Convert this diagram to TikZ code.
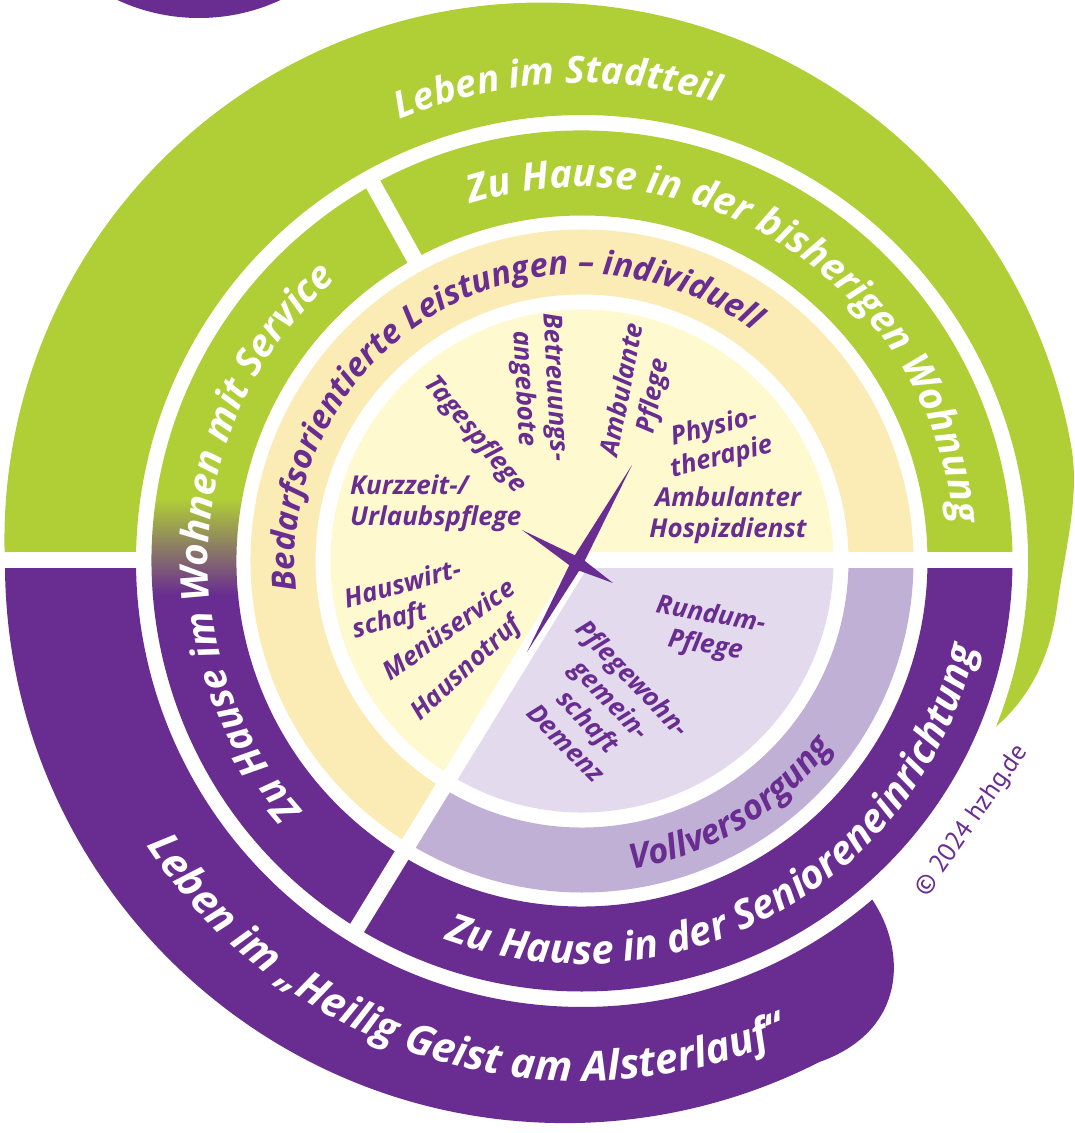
\documentclass[tikz,border=0pt]{standalone}
\usepackage{fontspec}
\newfontfamily\lab{Open Sans}
\newfontfamily\labthin{PT Sans}
\usetikzlibrary{decorations.text}
\definecolor{hgreen}{RGB}{176,206,54}
\definecolor{hpurple}{RGB}{105,44,145}
\definecolor{hbeige}{RGB}{251,236,181}
\definecolor{hyellow}{RGB}{255,249,208}
\definecolor{hlilac}{RGB}{227,219,237}
\definecolor{hlilacring}{RGB}{193,176,213}
\newcommand\hzTop{\lab\bfseries\itshape\fontsize{37.5}{40}\selectfont}
\newcommand\hzBottom{\lab\bfseries\itshape\fontsize{41.5}{44}\selectfont}
\newcommand\hzMid{\lab\bfseries\itshape\fontsize{38.5}{40}\selectfont}
\newcommand\hzMidB{\lab\bfseries\itshape\fontsize{40}{42}\selectfont}
\newcommand\hzRing{\lab\bfseries\itshape\fontsize{33}{36}\selectfont}
\newcommand\hzVoll{\lab\bfseries\itshape\fontsize{34.5}{36}\selectfont}
\begin{document}
\begin{tikzpicture}[x=1pt,y=1pt,
  inlabel/.style={text=hpurple, font={\lab\bfseries\itshape\fontsize{26}{31}\selectfont}, align=center, inner sep=0pt},
  copylabel/.style={text=hpurple, font={\labthin\fontsize{26}{28}\selectfont}, inner sep=0pt},
  gapline/.style={draw=white, line width=16pt},
  ]
\useasboundingbox (-582,-572) rectangle (493,561);
\clip (-582,-572) rectangle (493,561);
% top purple piece
\fill[hpurple] (-383,736.5) circle[radius=193.5];
% outer green band (spiral tail)
\fill[hgreen] (178.84:446) -- (-577.4,9) arc[start angle=181.28,end angle=10,radius=537.5]
  .. controls (498,65) and (483,10) .. (476,-39)
  .. controls (472,-70) and (462,-124) .. (-21.8:446)
  arc[start angle=-21.8,end angle=178.84,radius=446] -- cycle;
% outer purple band with rounded end
\fill[hpurple] (180.9:446) -- (-577,-7) arc[start angle=180.5,end angle=297,radius=560]
  .. controls (325,-470) and (325,-390) .. (-49.4:446)
  arc[start angle=-49.4,end angle=-179.1,radius=446] -- cycle;
% middle band
\fill[hgreen] (0:345.5) arc[start angle=0,end angle=119,radius=345.5] -- (119:430.5) arc[start angle=119,end angle=0,radius=430.5] -- cycle;
\fill[hpurple] (238.5:345.5) arc[start angle=238.5,end angle=360,radius=345.5] -- (0:430.5) arc[start angle=360,end angle=238.5,radius=430.5] -- cycle;
\begin{scope}
  \clip (119:345.5) arc[start angle=119,end angle=238.5,radius=345.5] -- (238.5:430.5) arc[start angle=238.5,end angle=119,radius=430.5] -- cycle;
  \fill[hgreen] (-450,62) rectangle (0,450);
  \shade[top color=hgreen,bottom color=hpurple] (-450,-34) rectangle (-150,62);
  \fill[hpurple] (-450,-450) rectangle (0,-34);
\end{scope}
% beige / lilac ring
\fill[hbeige] (0:266.5) arc[start angle=0,end angle=238.5,radius=266.5] -- (238.5:331.5) arc[start angle=238.5,end angle=0,radius=331.5] -- cycle;
\fill[hlilacring] (238.5:266.5) arc[start angle=238.5,end angle=360,radius=266.5] -- (0:331.5) arc[start angle=360,end angle=238.5,radius=331.5] -- cycle;
% inner disc
\fill[hyellow] (0,0) -- (0:251.5) arc[start angle=0,end angle=238.5,radius=251.5] -- cycle;
\fill[hlilac] (0,0) -- (238.5:251.5) arc[start angle=238.5,end angle=360,radius=251.5] -- cycle;
% white dividers
\draw[gapline] (0,0) -- (238.5:438);
\draw[gapline] (119:338) -- (119:438);
\draw[gapline] (-5,1) -- (438,1);
% curved texts
\path[decorate, decoration={text along path, text align=center, text color=white,
  text={|\hzTop|Leben im Stadtteil}}] (153:478) arc[start angle=153,end angle=33,radius=478];
\path[decorate, decoration={text along path, text align=center, text color=white,
  text={|\hzMid|Zu Hause in der bisherigen Wohnung}}] (146.5:374) arc[start angle=146.5,end angle=-33.5,radius=374];
\path[decorate, decoration={text along path, text align=center, text color=white,
  text={|\hzMid|Zu Hause im Wohnen mit Service}}] (266.4:374) arc[start angle=266.4,end angle=86.4,radius=374];
\path[decorate, decoration={text along path, text align=center, text color=white,
  text={|\hzMidB|Zu Hause in der Senioreneinrichtung}}] (208.8:403) arc[start angle=208.8,end angle=388.8,radius=403];
\path[decorate, decoration={text along path, text align=center, text color=white,
  text={|\hzBottom|Leben im „Heilig Geist am Alsterlauf“}}] (163.25:520) arc[start angle=163.25,end angle=343.25,radius=520];
\path[decorate, decoration={text along path, text align=center, text color=hpurple,
  text={|\hzRing|Bedarfsorientierte Leistungen – individuell}}] (209.6:287) arc[start angle=209.6,end angle=29.6,radius=287];
\path[decorate, decoration={text along path, text align=center, text color=hpurple,
  text={|\hzVoll|Vollversorgung}}] (241.3:312) arc[start angle=241.3,end angle=361.3,radius=312];
% star
\fill[hpurple] (50,96) -- (-7.2,5.7) -- (-60,31) -- (-12.7,-4.2) -- (-55,-91) -- (-2.8,-9.7) -- (31,-22) -- (2.7,0.2) -- cycle;
% inner labels
\node[inlabel, rotate=-87] (betr) at (-44,173) {Betreuungs-\\angebote};
\node[inlabel, rotate=79] (ambp) at (57,168) {Ambulante\\Pflege};
\node[inlabel, rotate=14] (phys) at (136,118) {Physio-\\therapie};
\node[inlabel] (hosp) at (146,46) {Ambulanter\\Hospizdienst};
\node[inlabel, rotate=-50] (tag) at (-107,126) {Tagespflege};
\node[inlabel, align=left, anchor=west] (kurz) at (-232,58) {Kurzzeit-/\\Urlaubspflege};
\node[inlabel, align=left, rotate=15] (haus) at (-175,-40) {Hauswirt-\\schaft};
\node[inlabel, rotate=35] (menu) at (-134,-68) {Menüservice};
\node[inlabel, rotate=43] (notr) at (-115,-108) {Hausnotruf};
\node[inlabel, rotate=-10] (rund) at (126,-70) {Rundum-\\Pflege};
\node[inlabel, rotate=-46] (pfl) at (18,-149) {Pflegewohn-\\gemein-\\schaft\\Demenz};
\node[copylabel, rotate=55] (copy) at (390,-260) {© 2024 hzhg.de};
\end{tikzpicture}
\end{document}
